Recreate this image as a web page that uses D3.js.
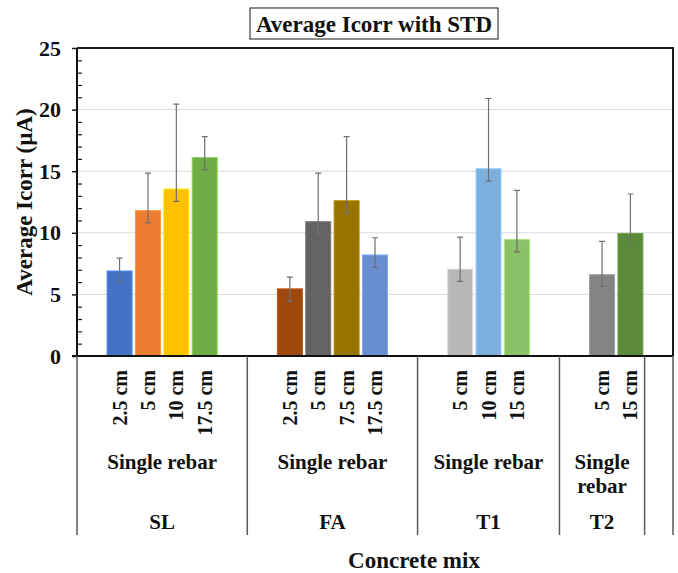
<!DOCTYPE html>
<html>
<head>
<meta charset="utf-8">
<script src="https://cdn.jsdelivr.net/npm/d3@7"></script>
<style>
  html, body { margin: 0; padding: 0; background: #ffffff; }
  svg { display: block; }
</style>
</head>
<body>
<svg id="chart" width="678" height="573"></svg>
<script>
// Category slots along the x axis (blank slots act as spacers between mixes)
const depthLabels = ["", "2.5 cm", "5 cm", "10 cm", "17.5 cm", "",
                     "", "2.5 cm", "5 cm", "7.5 cm", "17.5 cm", "",
                     "", "5 cm", "10 cm", "15 cm", "",
                     "", "5 cm", "15 cm",
                     ""];
const rebarLabels = ["Single rebar", "Single rebar", "Single rebar", "Single rebar", "Single rebar", "Single rebar",
                     "Single rebar", "Single rebar", "Single rebar", "Single rebar", "Single rebar", "Single rebar",
                     "Single rebar", "Single rebar", "Single rebar", "Single rebar", "Single rebar",
                     "Single rebar", "Single rebar", "Single rebar",
                     ""];
const mixLabels = ["SL", "SL", "SL", "SL", "SL", "SL",
                   "FA", "FA", "FA", "FA", "FA", "FA",
                   "T1", "T1", "T1", "T1", "T1",
                   "T2", "T2", "T2",
                   " "];

// Average corrosion current (µA) and error bar extents per slot
const icorr    = [null, 6.9, 11.8, 13.55, 16.1, null,
                  null, 5.45, 10.9, 12.6, 8.2, null,
                  null, 7.05, 15.2, 9.45, null,
                  null, 6.6, 9.95,
                  null];
const stdPlus  = [null, 1.05, 3.05, 6.9, 1.7, null,
                  null, 0.95, 3.95, 5.2, 1.4, null,
                  null, 2.6, 5.7, 4.0, null,
                  null, 2.7, 3.2,
                  null];
const stdMinus = [null, 0.95, 1.0, 1.0, 1.0, null,
                  null, 1.0, 1.0, 1.0, 1.0, null,
                  null, 1.0, 1.0, 1.0, null,
                  null, 0.95, 1.0,
                  null];
const barColors = [null, "#4472C4", "#ED7D31", "#FFC000", "#70AD47", null,
                   null, "#9E480E", "#636363", "#997300", "#698ED0", null,
                   null, "#B7B7B7", "#7CAFDD", "#8CC168", null,
                   null, "#848484", "#5A8A3A",
                   null];
const yTicks = [0, 5, 10, 15, 20, 25];

const FONT = "Liberation Serif";
const svg = d3.select("#chart");
const plotLeft = 77, plotRight = 673, plotTop = 48, plotBottom = 356;

// text helper with the chart's typeface
const label = (sel, size) => sel.append("text")
  .style("font-family", FONT).attr("font-weight", "bold")
  .attr("font-size", size).attr("fill", "#111");

const x = d3.scaleBand()
  .domain(d3.range(depthLabels.length))
  .range([plotLeft, plotRight])
  .paddingInner(0.12)
  .paddingOuter(0.06);
const step = x.step();
const slotStart = i => plotLeft + i * step;
const slotMid = i => x(i) + x.bandwidth() / 2;

const y = d3.scaleLinear().domain([0, 25]).range([plotBottom, plotTop]);

// gridlines
svg.append("g").selectAll("line")
  .data(yTicks.filter(t => t > 0 && t < 25))
  .join("line")
  .attr("x1", plotLeft).attr("x2", plotRight)
  .attr("y1", d => y(d)).attr("y2", d => y(d))
  .attr("stroke", "#d9d9d9").attr("stroke-width", 1);

// plot frame (top and right)
svg.append("path")
  .attr("d", `M${plotLeft},${plotTop}H${plotRight}V${plotBottom}`)
  .attr("fill", "none").attr("stroke", "#1a1a1a").attr("stroke-width", 2);

// bars
const idx = d3.range(icorr.length).filter(i => icorr[i] != null);
svg.append("g").selectAll("rect")
  .data(idx)
  .join("rect")
  .attr("x", i => x(i))
  .attr("width", x.bandwidth())
  .attr("y", i => y(icorr[i]))
  .attr("height", i => y(0) - y(icorr[i]))
  .attr("fill", i => barColors[i])
  .attr("stroke", i => d3.color(barColors[i]).brighter(0.5))
  .attr("stroke-width", 1);

// error bars
const eb = svg.append("g").attr("stroke", "#707070").attr("stroke-width", 1.2).attr("fill", "none");
eb.selectAll("path")
  .data(idx)
  .join("path")
  .attr("d", i => {
    const cx = slotMid(i);
    const y1 = y(icorr[i] + stdPlus[i]);
    const y2 = y(icorr[i] - stdMinus[i]);
    return `M${cx},${y1}V${y2}M${cx - 3},${y1}H${cx + 3}M${cx - 3},${y2}H${cx + 3}`;
  });

// y axis: major ticks outside, minor ticks inside
const yAxis = svg.append("g")
  .attr("transform", `translate(${plotLeft},0)`)
  .call(d3.axisLeft(y).tickValues(yTicks).tickSize(5).tickPadding(11).tickFormat(d3.format("d")));
yAxis.attr("font-family", null).attr("font-size", null);
yAxis.select(".domain").remove();
yAxis.selectAll(".tick line").attr("stroke", "#1a1a1a").attr("stroke-width", 1.5);
yAxis.selectAll(".tick text")
  .style("font-family", FONT).attr("font-weight", "bold")
  .attr("font-size", 22).attr("fill", "#111");

const minor = d3.range(1, 25).filter(v => v % 5 !== 0);
const yMinor = svg.append("g")
  .attr("transform", `translate(${plotLeft},0)`)
  .call(d3.axisRight(y).tickValues(minor).tickSize(5).tickFormat(""));
yMinor.select(".domain").remove();
yMinor.selectAll(".tick line").attr("stroke", "#1a1a1a").attr("stroke-width", 1.2);

svg.append("line")
  .attr("x1", plotLeft).attr("x2", plotLeft).attr("y1", plotTop).attr("y2", plotBottom)
  .attr("stroke", "#111").attr("stroke-width", 2);

// category axis
svg.append("line")
  .attr("x1", plotLeft - 5).attr("x2", plotRight).attr("y1", plotBottom).attr("y2", plotBottom)
  .attr("stroke", "#111").attr("stroke-width", 2);

// group boundaries for the multi-level axis
const boundaries = [0];
for (let i = 1; i < mixLabels.length; i++) if (mixLabels[i] !== mixLabels[i - 1]) boundaries.push(i);
boundaries.push(mixLabels.length);
svg.append("g").selectAll("line")
  .data(boundaries)
  .join("line")
  .attr("x1", b => slotStart(b)).attr("x2", b => slotStart(b))
  .attr("y1", plotBottom).attr("y2", 535)
  .attr("stroke", "#595959").attr("stroke-width", 1.5);

// depth labels (rotated, reading upward)
const depthG = svg.append("g");
d3.range(depthLabels.length).filter(i => depthLabels[i]).forEach(i => {
  label(depthG, 20)
    .attr("transform", `translate(${slotMid(i) + 7},370) rotate(-90)`)
    .attr("text-anchor", "end")
    .text(depthLabels[i]);
});

// group spans
const spans = [];
for (let k = 0; k < boundaries.length - 1; k++) {
  spans.push({ start: boundaries[k], end: boundaries[k + 1], mix: mixLabels[boundaries[k]], rebar: rebarLabels[boundaries[k]] });
}

// second level: reinforcement type
spans.filter(s => s.rebar).forEach(s => {
  const cx = (slotStart(s.start) + slotStart(s.end)) / 2;
  const w = slotStart(s.end) - slotStart(s.start);
  const t = label(svg, 21)
    .attr("x", cx).attr("y", 469)
    .attr("text-anchor", "middle");
  if (w < 110) {
    const words = s.rebar.split(" ");
    t.append("tspan").attr("x", cx).attr("y", 469).text(words[0]);
    t.append("tspan").attr("x", cx).attr("y", 493).text(words.slice(1).join(" "));
  } else {
    t.text(s.rebar);
  }
});

// top level: concrete mix
spans.filter(s => s.mix.trim()).forEach(s => {
  label(svg, 21)
    .attr("x", (slotStart(s.start) + slotStart(s.end)) / 2)
    .attr("y", 529)
    .attr("text-anchor", "middle")
    .text(s.mix);
});

// axis titles
label(svg, 23)
  .attr("x", 414).attr("y", 568)
  .attr("text-anchor", "middle")
  .text("Concrete mix");

label(svg, 23)
  .attr("transform", "translate(32,202) rotate(-90)")
  .attr("text-anchor", "middle")
  .text("Average Icorr (µA)");

// title in a framed box
svg.append("rect")
  .attr("x", 250).attr("y", 8).attr("width", 248).attr("height", 31)
  .attr("fill", "#fff").attr("stroke", "#404040").attr("stroke-width", 1.2);
label(svg, 23)
  .attr("x", 374).attr("y", 31.5)
  .attr("text-anchor", "middle")
  .text("Average Icorr with STD");
</script>
</body>
</html>
